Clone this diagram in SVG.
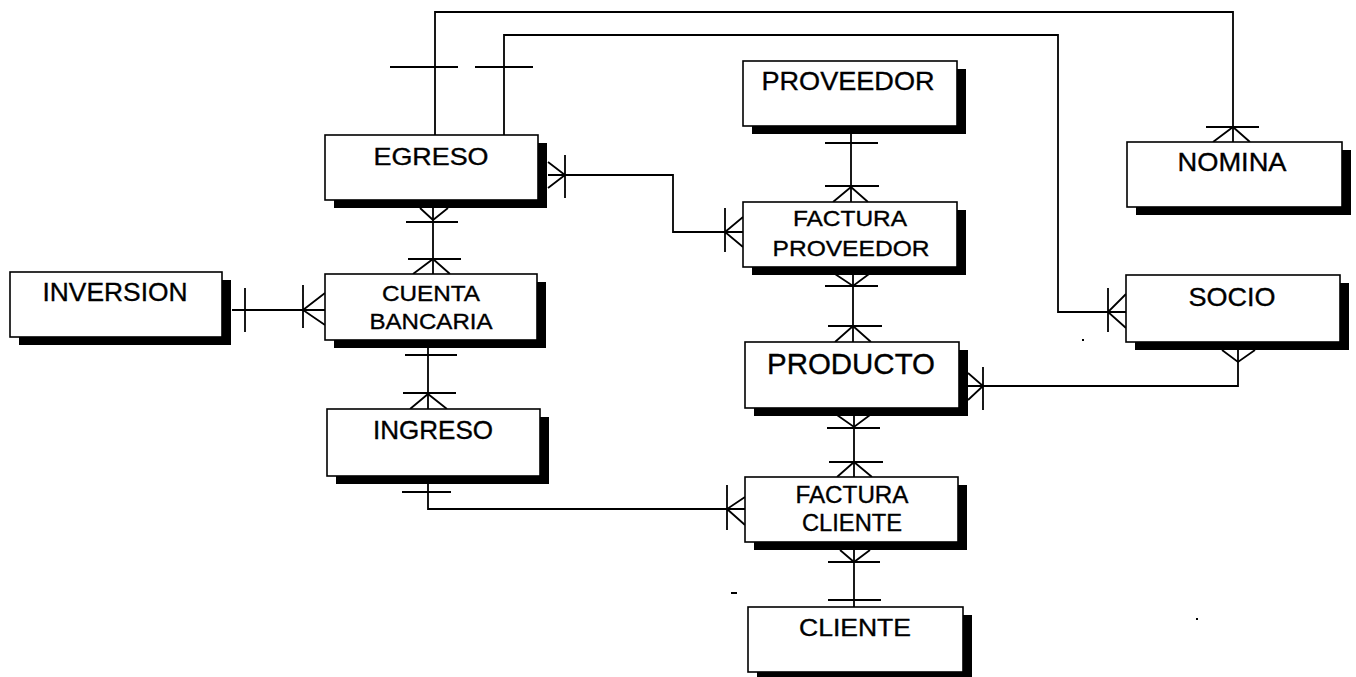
<svg xmlns="http://www.w3.org/2000/svg" width="1356" height="677" viewBox="0 0 1356 677">
<style>
.box{fill:#fff;stroke:#000;stroke-width:1.6}
.sh{fill:#000}
.t{font-family:"Liberation Sans",Arial,sans-serif;fill:#000;stroke:#000;stroke-width:0.35;text-anchor:middle}
.c{fill:none;stroke:#000;stroke-width:1.8;stroke-linejoin:miter}
</style>
<rect width="1356" height="677" fill="#fff"/>

<g id="connectors" class="c">
  <!-- EGRESO - NOMINA -->
  <path d="M435,135 V12 H1233 V142"/>
  <path d="M390,67 H458"/>
  <path d="M1206,127 H1259 M1213,142 L1233,127 L1250,142"/>
  <!-- EGRESO - SOCIO -->
  <path d="M504,135 V35 H1058 V312 H1126"/>
  <path d="M475,67 H533"/>
  <path d="M1108,288 V332 M1126,294 L1108,312 L1126,328"/>
  <!-- EGRESO - FACTURA PROVEEDOR -->
  <path d="M548,175 H673 V232 H743"/>
  <path d="M548,162 L565,175 L548,188 M565,155 V198"/>
  <path d="M725,208 V252 M743,217 L725,232 L743,247"/>
  <!-- EGRESO - CUENTA BANCARIA -->
  <path d="M433,208 V274"/>
  <path d="M420,208 L433,220 L448,208 M406,222 H458"/>
  <path d="M408,259 H461 M413,274 L433,259 L450,274"/>
  <!-- INVERSION - CUENTA BANCARIA -->
  <path d="M232,310 H325"/>
  <path d="M245,288 V332"/>
  <path d="M303,285 V328 M325,293 L303,310 L325,325"/>
  <!-- CUENTA BANCARIA - INGRESO -->
  <path d="M428,348 V409"/>
  <path d="M405,355 H457"/>
  <path d="M403,393 H456 M410,409 L428,394 L447,409"/>
  <!-- INGRESO - FACTURA CLIENTE -->
  <path d="M428,484 V509 H745"/>
  <path d="M402,492 H451"/>
  <path d="M727,485 V530 M745,497 L727,509 L745,525"/>
  <!-- PROVEEDOR - FACTURA PROVEEDOR -->
  <path d="M851,133 V202"/>
  <path d="M825,143 H878"/>
  <path d="M825,186 H879 M833,202 L851,187 L868,202"/>
  <!-- FACTURA PROVEEDOR - PRODUCTO -->
  <path d="M853,275 V342"/>
  <path d="M835,274 L853,286 L869,274 M825,286 H878"/>
  <path d="M828,326 H882 M835,342 L853,326 L871,342"/>
  <!-- PRODUCTO - FACTURA CLIENTE -->
  <path d="M854,415 V477"/>
  <path d="M837,415 L854,427 L870,415 M827,428 H880"/>
  <path d="M829,462 H883 M837,477 L854,462 L872,477"/>
  <!-- FACTURA CLIENTE - CLIENTE -->
  <path d="M854,550 V607"/>
  <path d="M840,550 L854,562 L870,550 M828,562 H880"/>
  <path d="M828,600 H881"/>
  <!-- PRODUCTO - SOCIO -->
  <path d="M968,386 H1238 V350"/>
  <path d="M968,373 L983,386 L968,400 M983,367 V410"/>
  <path d="M1222,350 L1238,362 L1255,350"/>
</g>

<g id="egreso">
  <rect class="sh" x="334" y="143" width="213" height="65"/>
  <rect class="box" x="325" y="135" width="213" height="65"/>
  <text class="t" x="431" y="165" font-size="24" textLength="115" lengthAdjust="spacingAndGlyphs">EGRESO</text>
</g>
<g id="proveedor">
  <rect class="sh" x="752" y="69" width="214" height="65"/>
  <rect class="box" x="743" y="61" width="214" height="65"/>
  <text class="t" x="848" y="90" font-size="26" textLength="173" lengthAdjust="spacingAndGlyphs">PROVEEDOR</text>
</g>
<g id="factura-proveedor">
  <rect class="sh" x="752" y="210" width="214" height="65"/>
  <rect class="box" x="743" y="202" width="214" height="65"/>
  <text class="t" x="850" y="226" font-size="22" textLength="114" lengthAdjust="spacingAndGlyphs">FACTURA</text>
  <text class="t" x="851" y="256" font-size="22" textLength="157" lengthAdjust="spacingAndGlyphs">PROVEEDOR</text>
</g>
<g id="nomina">
  <rect class="sh" x="1136" y="150" width="215" height="65"/>
  <rect class="box" x="1127" y="142" width="215" height="65"/>
  <text class="t" x="1232" y="171" font-size="26" textLength="109" lengthAdjust="spacingAndGlyphs">NOMINA</text>
</g>
<g id="socio">
  <rect class="sh" x="1135" y="283" width="214" height="67"/>
  <rect class="box" x="1126" y="275" width="214" height="67"/>
  <text class="t" x="1232" y="306" font-size="26" textLength="87" lengthAdjust="spacingAndGlyphs">SOCIO</text>
</g>
<g id="inversion">
  <rect class="sh" x="19" y="280" width="212" height="65"/>
  <rect class="box" x="10" y="272" width="212" height="65"/>
  <text class="t" x="115" y="301" font-size="26" textLength="145" lengthAdjust="spacingAndGlyphs">INVERSION</text>
</g>
<g id="cuenta-bancaria">
  <rect class="sh" x="334" y="282" width="212" height="66"/>
  <rect class="box" x="325" y="274" width="212" height="66"/>
  <text class="t" x="431" y="301" font-size="22" textLength="98" lengthAdjust="spacingAndGlyphs">CUENTA</text>
  <text class="t" x="431" y="329" font-size="22" textLength="123" lengthAdjust="spacingAndGlyphs">BANCARIA</text>
</g>
<g id="ingreso">
  <rect class="sh" x="336" y="417" width="213" height="67"/>
  <rect class="box" x="327" y="409" width="213" height="67"/>
  <text class="t" x="433" y="439" font-size="25" textLength="120" lengthAdjust="spacingAndGlyphs">INGRESO</text>
</g>
<g id="producto">
  <rect class="sh" x="754" y="350" width="214" height="66"/>
  <rect class="box" x="745" y="342" width="214" height="66"/>
  <text class="t" x="851" y="374" font-size="29" textLength="168" lengthAdjust="spacingAndGlyphs">PRODUCTO</text>
</g>
<g id="factura-cliente">
  <rect class="sh" x="754" y="485" width="213" height="65"/>
  <rect class="box" x="745" y="477" width="213" height="65"/>
  <text class="t" x="852" y="503" font-size="23" textLength="113" lengthAdjust="spacingAndGlyphs">FACTURA</text>
  <text class="t" x="852" y="531" font-size="23" textLength="100" lengthAdjust="spacingAndGlyphs">CLIENTE</text>
</g>
<g id="cliente">
  <rect class="sh" x="757" y="615" width="215" height="65"/>
  <rect class="box" x="748" y="607" width="215" height="65"/>
  <text class="t" x="855" y="636" font-size="24" textLength="112" lengthAdjust="spacingAndGlyphs">CLIENTE</text>
</g>

<g id="specks" fill="#000">
  <rect x="731" y="592" width="6" height="2"/>
  <rect x="1082" y="339" width="2" height="2"/>
  <rect x="1196" y="618" width="2" height="2"/>
</g>
</svg>
